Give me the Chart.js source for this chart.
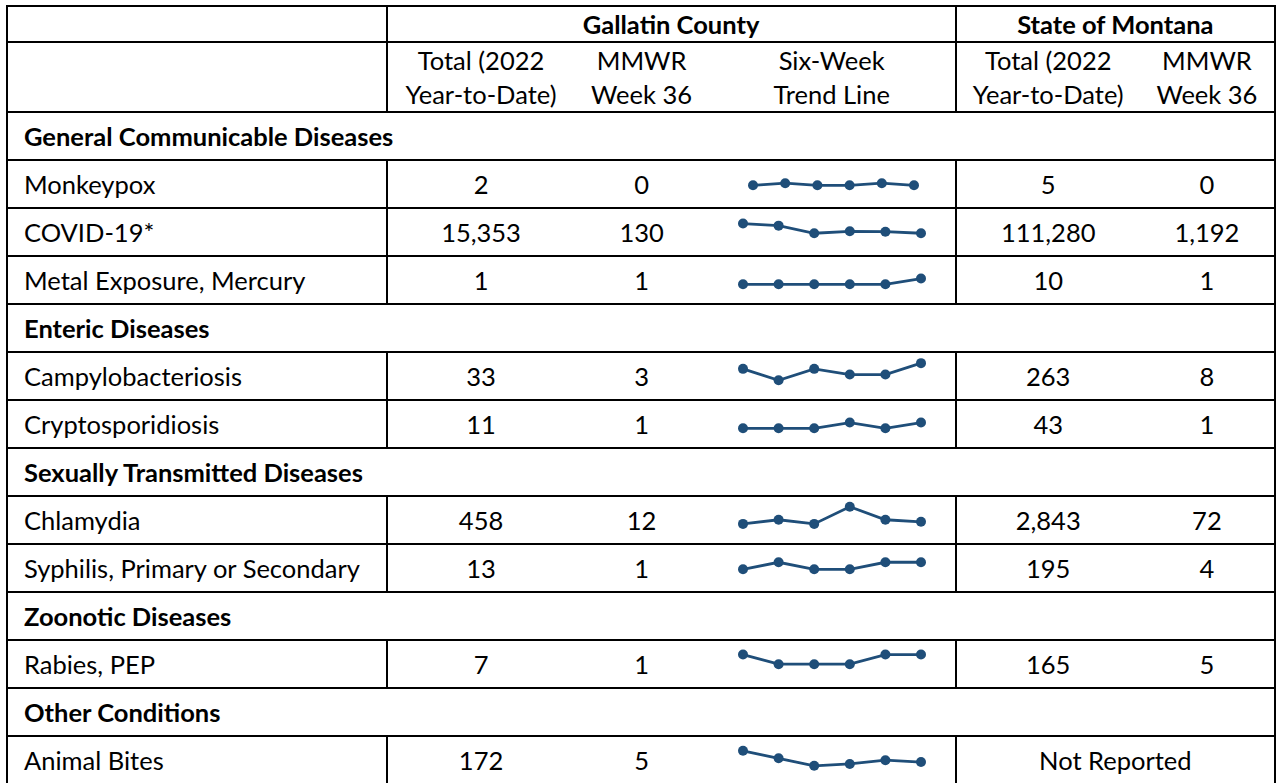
<!DOCTYPE html>
<html>
<head>
<meta charset="utf-8">
<script src="https://cdn.jsdelivr.net/npm/chart.js@4"></script>
<style>
    html, body { margin: 0; padding: 0; background: #fff; overflow: hidden; }
    body { width: 1276px; height: 783px; position: relative; font-family: 'Lato', 'Carlito', sans-serif; color: #000; }
    #wrap { position: absolute; left: 6px; top: 5px; }
    table { border-collapse: collapse; table-layout: fixed; font-size: 25.5px; }
    td { border: 2px solid #000; padding: 0; text-align: center; vertical-align: middle; white-space: nowrap; overflow: hidden; }
    tr.h1 td { height: 34px; font-weight: bold; }
    tr.h2 td { height: 68px; line-height: 34px; }
    tr.row td { height: 46px; line-height: 44px; }
    td.name { text-align: left; padding-left: 16px; }
    td.sec { text-align: left; padding-left: 16px; font-weight: bold; }
    td.nol { border-left: none; }
    td.nor { border-right: none; }
    td.spark canvas { display: block; }
</style>
</head>
<body>
<div id="wrap"><table id="tbl"></table></div>
<script>
// table data
const groups = ["Gallatin County", "State of Montana"];
const subHeads = ["Total (2022<br>Year-to-Date)", "MMWR<br>Week 36", "Six-Week<br>Trend Line", "Total (2022<br>Year-to-Date)", "MMWR<br>Week 36"];
const sections = ["General Communicable Diseases", "Enteric Diseases", "Sexually Transmitted Diseases", "Zoonotic Diseases", "Other Conditions"];
const conditions = ["Monkeypox", "COVID-19*", "Metal Exposure, Mercury", "Campylobacteriosis", "Cryptosporidiosis", "Chlamydia", "Syphilis, Primary or Secondary", "Rabies, PEP", "Animal Bites"];
const sectionOf = [0, 0, 0, 1, 1, 2, 2, 3, 4];
const countyYTD = ["2", "15,353", "1", "33", "11", "458", "13", "7", "172"];
const countyWeek = ["0", "130", "1", "3", "1", "12", "1", "1", "5"];
const stateYTD = ["5", "111,280", "10", "263", "43", "2,843", "195", "165", null];
const stateWeek = ["0", "1,192", "1", "8", "1", "72", "4", "5", null];

// six-week trend (weeks 31-36), estimated from the sparklines
const weeks = ["31", "32", "33", "34", "35", "36"];
const trend = [
    [0, 1, 0, 0, 1, 0],
    [210, 193, 130, 146, 143, 130],
    [0, 0, 0, 0, 0, 1],
    [2, 0, 2, 1, 1, 3],
    [0, 0, 0, 1, 0, 1],
    [9, 15, 9, 34, 15, 12],
    [0, 1, 0, 0, 1, 1],
    [1, 0, 0, 0, 1, 1],
    [11, 7, 3, 4, 6, 5]
];
// each sparkline has its own axis range
const trendMin = [-7.9, -8, -2.4, -2.4, -2.4, -11.5, -2.37, -1.85, -3.5];
const trendMax = [9.15, 289, 3.9, 3.9, 3.9, 40.8, 2.74, 1.89, 15.7];

const colWidths = [381, 190, 136, 247, 186, 137];
const sparkColor = '#1f4e79';

function buildTable() {
    const tbl = document.getElementById('tbl');
    let html = '<colgroup>' + colWidths.map(w => `<col style="width:${w}px">`).join('') + '</colgroup>';
    html += `<tr class="h1"><td></td><td colspan="3">${groups[0]}</td><td colspan="2">${groups[1]}</td></tr>`;
    html += '<tr class="h2"><td></td>';
    subHeads.forEach((h, i) => {
        let cls = [];
        if (i === 1 || i === 2 || i === 4) cls.push('nol');
        if (i === 0 || i === 1 || i === 3) cls.push('nor');
        html += `<td class="${cls.join(' ')}">${h}</td>`;
    });
    html += '</tr>';
    let lastSec = -1;
    conditions.forEach((c, i) => {
        if (sectionOf[i] !== lastSec) {
            lastSec = sectionOf[i];
            html += `<tr class="row"><td class="sec" colspan="6">${sections[lastSec]}</td></tr>`;
        }
        html += `<tr class="row"><td class="name">${c}</td>`;
        html += `<td class="nor">${countyYTD[i]}</td><td class="nol nor">${countyWeek[i]}</td>`;
        html += `<td class="spark nol"><canvas id="spark${i}" width="246" height="46"></canvas></td>`;
        if (stateYTD[i] === null) {
            html += '<td colspan="2">Not Reported</td>';
        } else {
            html += `<td class="nor">${stateYTD[i]}</td><td class="nol">${stateWeek[i]}</td>`;
        }
        html += '</tr>';
    });
    tbl.innerHTML = html;
}

function drawSparks() {
    trend.forEach((vals, i) => {
        const ctx = document.getElementById('spark' + i).getContext('2d');
        const pad = i === 0 ? { left: 44, right: 41 } : { left: 34, right: 34 };
        new Chart(ctx, {
            type: 'line',
            data: {
                labels: weeks,
                datasets: [{
                    data: vals,
                    borderColor: sparkColor,
                    backgroundColor: sparkColor,
                    borderWidth: 2.8,
                    pointRadius: 5,
                    pointBorderWidth: 0,
                    tension: 0,
                    clip: false
                }]
            },
            options: {
                responsive: false,
                animation: false,
                devicePixelRatio: 1,
                layout: { padding: { left: pad.left, right: pad.right, top: 0, bottom: 0 } },
                plugins: { legend: { display: false }, tooltip: { enabled: false } },
                scales: {
                    x: { display: false },
                    y: { display: false, min: trendMin[i], max: trendMax[i] }
                }
            }
        });
    });
}

buildTable();
drawSparks();
</script>
</body>
</html>
